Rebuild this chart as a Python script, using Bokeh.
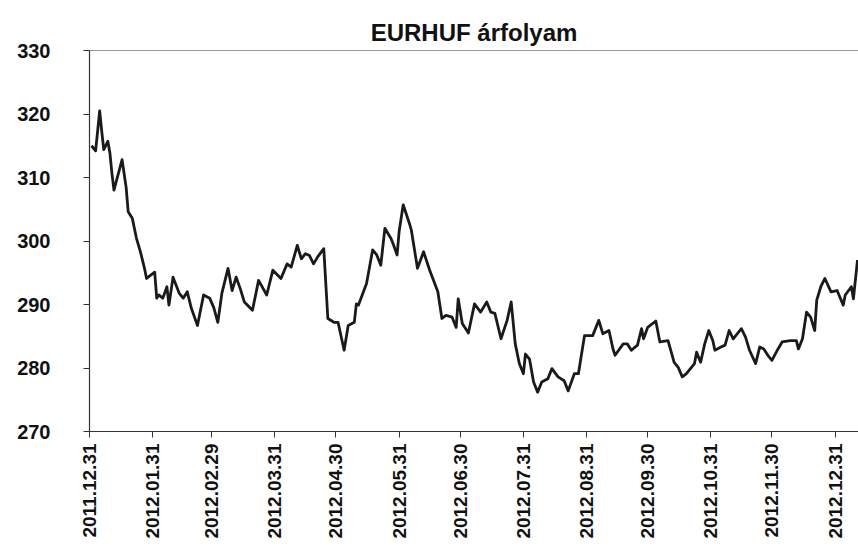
import math
import pandas as pd
from bokeh.plotting import figure
from bokeh.models import FixedTicker, DatetimeTickFormatter, Span, Range1d
from bokeh.embed import file_html
from bokeh.resources import INLINE

dates = [
    "2012-01-01", "2012-01-03", "2012-01-05", "2012-01-06", "2012-01-07", "2012-01-09",
    "2012-01-10", "2012-01-11", "2012-01-12", "2012-01-14", "2012-01-16", "2012-01-18",
    "2012-01-19", "2012-01-21", "2012-01-23", "2012-01-25", "2012-01-27", "2012-01-28",
    "2012-02-01", "2012-02-02", "2012-02-03", "2012-02-05", "2012-02-07", "2012-02-08",
    "2012-02-10", "2012-02-13", "2012-02-15", "2012-02-17", "2012-02-19", "2012-02-22",
    "2012-02-25", "2012-02-28", "2012-03-01", "2012-03-03", "2012-03-05", "2012-03-08",
    "2012-03-10", "2012-03-12", "2012-03-14", "2012-03-16", "2012-03-20", "2012-03-23",
    "2012-03-27", "2012-03-30", "2012-04-03", "2012-04-06", "2012-04-08", "2012-04-11",
    "2012-04-13", "2012-04-15", "2012-04-17", "2012-04-19", "2012-04-21", "2012-04-24",
    "2012-04-26", "2012-04-29", "2012-05-01", "2012-05-04", "2012-05-06", "2012-05-09",
    "2012-05-10", "2012-05-11", "2012-05-15", "2012-05-18", "2012-05-20", "2012-05-22",
    "2012-05-24", "2012-05-27", "2012-05-28", "2012-05-30", "2012-05-31", "2012-06-02",
    "2012-06-05", "2012-06-06", "2012-06-09", "2012-06-12", "2012-06-15", "2012-06-19",
    "2012-06-21", "2012-06-23", "2012-06-26", "2012-06-28", "2012-06-29", "2012-07-01",
    "2012-07-04", "2012-07-07", "2012-07-10", "2012-07-13", "2012-07-15", "2012-07-17",
    "2012-07-20", "2012-07-23", "2012-07-25", "2012-07-27", "2012-07-29", "2012-07-31",
    "2012-08-01", "2012-08-03", "2012-08-05", "2012-08-07", "2012-08-09", "2012-08-12",
    "2012-08-14", "2012-08-17", "2012-08-20", "2012-08-22", "2012-08-25", "2012-08-27",
    "2012-08-30", "2012-09-03", "2012-09-06", "2012-09-08", "2012-09-11", "2012-09-13",
    "2012-09-14", "2012-09-18", "2012-09-20", "2012-09-22", "2012-09-25", "2012-09-27",
    "2012-09-28", "2012-09-30", "2012-10-04", "2012-10-06", "2012-10-10", "2012-10-13",
    "2012-10-15", "2012-10-17", "2012-10-19", "2012-10-23", "2012-10-24", "2012-10-26",
    "2012-10-28", "2012-10-30", "2012-11-01", "2012-11-02", "2012-11-05", "2012-11-07",
    "2012-11-09", "2012-11-11", "2012-11-15", "2012-11-17", "2012-11-19", "2012-11-22",
    "2012-11-24", "2012-11-26", "2012-11-28", "2012-11-30", "2012-12-03", "2012-12-05",
    "2012-12-09", "2012-12-12", "2012-12-13", "2012-12-15", "2012-12-17", "2012-12-19",
    "2012-12-21", "2012-12-22", "2012-12-24", "2012-12-26", "2012-12-29", "2013-01-01",
    "2013-01-04", "2013-01-05", "2013-01-08", "2013-01-09", "2013-01-11",
]

eurhuf = [
    315.0, 314.2, 320.5, 317.3, 314.4, 315.7,
    313.9, 310.7, 308.0, 310.4, 312.8, 308.4,
    304.6, 303.6, 300.5, 298.3, 295.7, 294.1,
    295.1, 291.0, 291.5, 291.0, 292.8, 289.9,
    294.3, 291.8, 291.0, 292.0, 289.4, 286.7,
    291.5, 291.0, 289.5, 287.2, 291.8, 295.7,
    292.2, 294.3, 292.5, 290.4, 289.1, 293.8,
    291.5, 295.4, 294.1, 296.4, 295.9, 299.3,
    297.2, 298.0, 297.7, 296.4, 297.5, 298.8,
    287.8, 287.2, 287.2, 282.8, 286.7, 287.2,
    290.1, 289.9, 293.3, 298.6, 297.8, 296.2,
    302.0, 300.4, 299.6, 297.8, 301.5, 305.7,
    302.8, 301.7, 295.7, 298.3, 295.4, 292.0,
    287.8, 288.3, 288.0, 286.4, 290.9, 287.0,
    285.5, 290.1, 288.8, 290.4, 288.8, 288.6,
    284.6, 287.5, 290.4, 283.8, 280.7, 279.1,
    282.2, 281.4, 277.8, 276.2, 277.8, 278.3,
    279.9, 278.6, 278.0, 276.4, 279.1, 279.1,
    285.1, 285.1, 287.5, 285.4, 285.9, 283.0,
    282.0, 283.8, 283.8, 282.8, 283.6, 286.2,
    284.6, 286.4, 287.4, 284.1, 284.3, 280.9,
    280.1, 278.6, 279.1, 280.7, 282.5, 280.9,
    283.8, 285.9, 284.3, 282.8, 283.3, 283.6,
    285.9, 284.6, 286.2, 284.9, 282.8, 280.7,
    283.3, 283.0, 282.0, 281.2, 283.0, 284.1,
    284.3, 284.3, 283.0, 284.6, 288.8, 288.0,
    285.9, 290.7, 292.8, 294.1, 292.0, 292.2,
    289.9, 291.5, 292.8, 290.9, 297.0,
]

tick_dates = [
    "2011-12-31", "2012-01-31", "2012-02-29", "2012-03-31", "2012-04-30",
    "2012-05-31", "2012-06-30", "2012-07-31", "2012-08-31", "2012-09-30",
    "2012-10-31", "2012-11-30", "2012-12-31",
]
y_ticks = [270, 280, 290, 300, 310, 320, 330]

x = pd.to_datetime(dates)
x_start = pd.Timestamp("2011-12-31")
x_end = pd.Timestamp("2013-01-11 12:00")

p = figure(
    width=858, height=551, x_axis_type="datetime",
    output_backend="svg", toolbar_location=None,
    x_range=Range1d(x_start, x_end), y_range=Range1d(270, 330),
    min_border_left=89, min_border_right=0, min_border_top=50, min_border_bottom=120,
)
p.title.text = "EURHUF árfolyam"
p.title.align = "center"
p.title.text_font = "Liberation Sans"
p.title.text_font_style = "bold"
p.title.text_font_size = "24px"
p.title.text_color = "#111111"

p.outline_line_color = None
p.xgrid.visible = False
p.ygrid.visible = False
p.background_fill_color = "white"
p.border_fill_color = "white"

p.line(x, eurhuf, line_color="#1a1a1a", line_width=2.8, line_join="round")

p.add_layout(Span(location=330, dimension="width", line_color="#333333", line_width=1.2))

tick_ms = [pd.Timestamp(d).value / 1e6 for d in tick_dates]
p.xaxis.ticker = FixedTicker(ticks=tick_ms)
fmt = "%Y.%m.%d"
p.xaxis.formatter = DatetimeTickFormatter(
    milliseconds=fmt, seconds=fmt, minsec=fmt, minutes=fmt, hourmin=fmt,
    hours=fmt, days=fmt, months=fmt, years=fmt, context=None,
)
p.xaxis.major_label_orientation = math.pi / 2
p.yaxis.ticker = FixedTicker(ticks=y_ticks)

for ax in (p.xaxis, p.yaxis):
    ax.axis_line_color = "#333333"
    ax.axis_line_width = 1.2
    ax.major_tick_line_color = "#333333"
    ax.major_tick_in = 0
    ax.major_tick_out = 6
    ax.minor_tick_line_color = None
    ax.major_label_text_font = "Liberation Sans"
    ax.major_label_text_font_style = "bold"
    ax.major_label_text_color = "#111111"

p.yaxis.major_label_text_font_size = "20px"
p.yaxis.major_label_standoff = 33
p.xaxis.major_label_text_font_size = "19px"
p.xaxis.major_label_standoff = 6

open("out.html", "w").write(file_html(p, INLINE))
